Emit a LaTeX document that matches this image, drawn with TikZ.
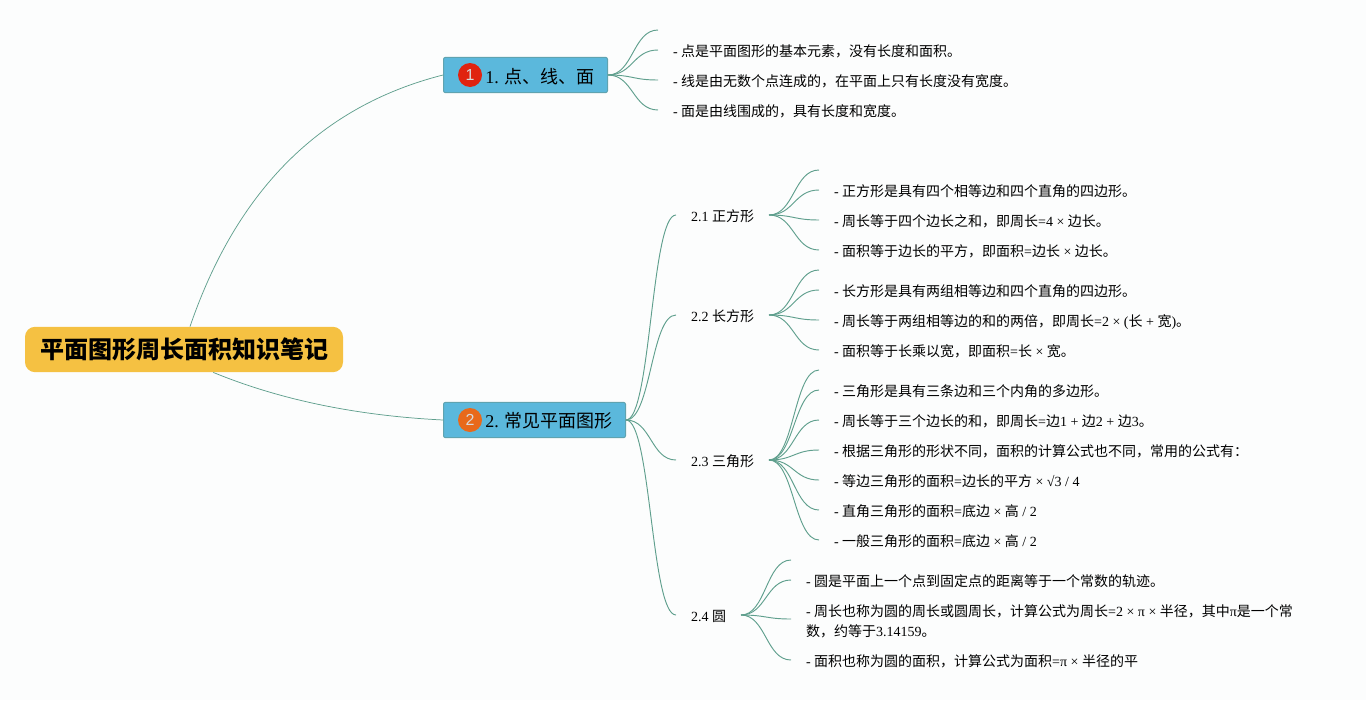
\documentclass[tikz,border=0pt]{standalone}
\usepackage{fontspec}
\setmainfont{Liberation Serif}
\setsansfont{Liberation Sans}
\newfontfamily\zhfont{Noto Sans CJK SC}
\newcommand{\zh}[1]{{\zhfont #1}}

\definecolor{pagebg}{HTML}{FCFDFD}
\definecolor{linkgreen}{HTML}{5F9F8D}
\definecolor{rootfill}{HTML}{F5C142}
\definecolor{branchfill}{HTML}{5BB8DC}
\definecolor{branchline}{HTML}{5FA3B0}
\definecolor{iconred}{HTML}{E0230F}
\definecolor{iconorange}{HTML}{E8691B}

\tikzset{
    link/.style={draw=linkgreen,line width=0.7pt},
    thinlink/.style={draw=linkgreen,line width=0.55pt},
    flow/.style={to path={.. controls +(25,0) and +(-25,0) .. (\tikztotarget)}},
    root/.style={fill=rootfill,rounded corners=7.5pt,minimum width=238.5pt,minimum height=34pt,inner sep=0pt,font=\fontsize{18}{22}\selectfont\bfseries},
    branch/.style={draw=branchline,line width=0.75pt,fill=branchfill,rounded corners=1.5pt,minimum height=26.5pt,inner sep=0pt,outer sep=0.375pt},
    branchtext/.style={anchor=west,inner sep=0pt,font=\fontsize{13.5}{16}\selectfont},
    icon/.style={circle,minimum size=18pt,inner sep=0pt,text=white!85!black,font=\sffamily\fontsize{12}{14}\selectfont},
    sub/.style={anchor=west,inner ysep=0pt,inner xsep=0pt,outer xsep=11.25pt,outer ysep=0pt,font=\fontsize{10.5}{15}\selectfont},
    leaf/.style={sub,text height=9.7pt,text depth=0.3pt},
    leaftwo/.style={sub,align=left},
}

\begin{document}
\begin{tikzpicture}[x=0.75pt,y=0.75pt,yscale=-1,xscale=1]
    \useasboundingbox (0,0) rectangle (1366,700);
    \fill [pagebg] (0,0) rectangle (1366,700);

    % Root
    \node (root) at (184,349.5) [root] {\raisebox{-1.5pt}{\zhfont 平面图形周长面积知识笔记}};

    % Branch 1
    \node (b1) at (525.5,75) [branch,minimum width=123pt] {};
    \node (icon1) at (470,75) [icon,fill=iconred] {1};
    \node (b1text) at (485,76.5) [branchtext] {1. \zh{点、线、面}};

    % Branch 2
    \node (b2) at (534.5,420) [branch,minimum width=136.5pt] {};
    \node (icon2) at (470,420) [icon,fill=iconorange] {2};
    \node (b2text) at (485,421) [branchtext] {2. \zh{常见平面图形}};

    % Leaves of branch 1
    \coordinate (l10) at (658,30);
    \node (l11) at (658,50) [leaf] {- \zh{点是平面图形的基本元素，没有长度和面积。}};
    \node (l12) at (658,80) [leaf] {- \zh{线是由无数个点连成的，在平面上只有长度没有宽度。}};
    \node (l13) at (658,110) [leaf] {- \zh{面是由线围成的，具有长度和宽度。}};

    % Sub topics of branch 2
    \node (s21) at (676,215) [leaf] {2.1 \zh{正方形}};
    \node (s22) at (676,315) [leaf] {2.2 \zh{长方形}};
    \node (s23) at (676,460) [leaf] {2.3 \zh{三角形}};
    \node (s24) at (676,615) [leaf] {2.4 \zh{圆}};

    % Leaves of 2.1
    \coordinate (l210) at (819,170);
    \node (l211) at (819,190) [leaf] {- \zh{正方形是具有四个相等边和四个直角的四边形。}};
    \node (l212) at (819,220) [leaf] {- \zh{周长等于四个边长之和，即周长}=4 × \zh{边长。}};
    \node (l213) at (819,250) [leaf] {- \zh{面积等于边长的平方，即面积}=\zh{边长} × \zh{边长。}};

    % Leaves of 2.2
    \coordinate (l220) at (819,270);
    \node (l221) at (819,290) [leaf] {- \zh{长方形是具有两组相等边和四个直角的四边形。}};
    \node (l222) at (819,320) [leaf] {- \zh{周长等于两组相等边的和的两倍，即周长}=2 × (\zh{长} + \zh{宽})\zh{。}};
    \node (l223) at (819,350) [leaf] {- \zh{面积等于长乘以宽，即面积}=\zh{长} × \zh{宽。}};

    % Leaves of 2.3
    \coordinate (l230) at (819,370);
    \node (l231) at (819,390) [leaf] {- \zh{三角形是具有三条边和三个内角的多边形。}};
    \node (l232) at (819,420) [leaf] {- \zh{周长等于三个边长的和，即周长}=\zh{边}1 + \zh{边}2 + \zh{边}3\zh{。}};
    \node (l233) at (819,450) [leaf] {- \zh{根据三角形的形状不同，面积的计算公式也不同，常用的公式有：}};
    \node (l234) at (819,480) [leaf] {- \zh{等边三角形的面积}=\zh{边长的平方} × √3 / 4};
    \node (l235) at (819,510) [leaf] {- \zh{直角三角形的面积}=\zh{底边} × \zh{高} / 2};
    \node (l236) at (819,540) [leaf] {- \zh{一般三角形的面积}=\zh{底边} × \zh{高} / 2};

    % Leaves of 2.4
    \coordinate (l240) at (791,560);
    \node (l241) at (791,580) [leaf] {- \zh{圆是平面上一个点到固定点的距离等于一个常数的轨迹。}};
    \coordinate (l242) at (791,619);
    \node (l242text) at (791,621) [leaftwo] {- \zh{周长也称为圆的周长或圆周长，计算公式为周长}=2 × π × \zh{半径，其中}π\zh{是一个常}\\\zh{数，约等于}3.14159\zh{。}};
    \node (l243) at (791,660) [leaf] {- \zh{面积也称为圆的面积，计算公式为面积}=π × \zh{半径的平}};

    % Root links
    \draw [thinlink] ([xshift=4.5pt]root.north) .. controls +(47,-137) and +(-122,31) .. (b1.west);
    \draw [thinlink] ([xshift=22pt]root.south) .. controls +(65.7,27) and +(-87.7,-4.4) .. (b2.west);

    % Links of branch 1
    \draw [link] (b1.east) to [flow] (l10);
    \draw [link] (b1.east) to [flow] (l11.west);
    \draw [link] (b1.east) to [flow] (l12.west);
    \draw [link] (b1.east) to [flow] (l13.west);

    % Links of branch 2
    \draw [link] (b2.east) to [flow] (s21.west);
    \draw [link] (b2.east) to [flow] (s22.west);
    \draw [link] (b2.east) to [flow] (s23.west);
    \draw [link] (b2.east) to [flow] (s24.west);

    % Links of 2.1
    \draw [link] (s21.east) to [flow] (l210);
    \draw [link] (s21.east) to [flow] (l211.west);
    \draw [link] (s21.east) to [flow] (l212.west);
    \draw [link] (s21.east) to [flow] (l213.west);

    % Links of 2.2
    \draw [link] (s22.east) to [flow] (l220);
    \draw [link] (s22.east) to [flow] (l221.west);
    \draw [link] (s22.east) to [flow] (l222.west);
    \draw [link] (s22.east) to [flow] (l223.west);

    % Links of 2.3
    \draw [link] (s23.east) to [flow] (l230);
    \draw [link] (s23.east) to [flow] (l231.west);
    \draw [link] (s23.east) to [flow] (l232.west);
    \draw [link] (s23.east) to [flow] (l233.west);
    \draw [link] (s23.east) to [flow] (l234.west);
    \draw [link] (s23.east) to [flow] (l235.west);
    \draw [link] (s23.east) to [flow] (l236.west);

    % Links of 2.4
    \draw [link] (s24.east) to [flow] (l240);
    \draw [link] (s24.east) to [flow] (l241.west);
    \draw [link] (s24.east) to [flow] (l242);
    \draw [link] (s24.east) to [flow] (l243.west);
\end{tikzpicture}
\end{document}
